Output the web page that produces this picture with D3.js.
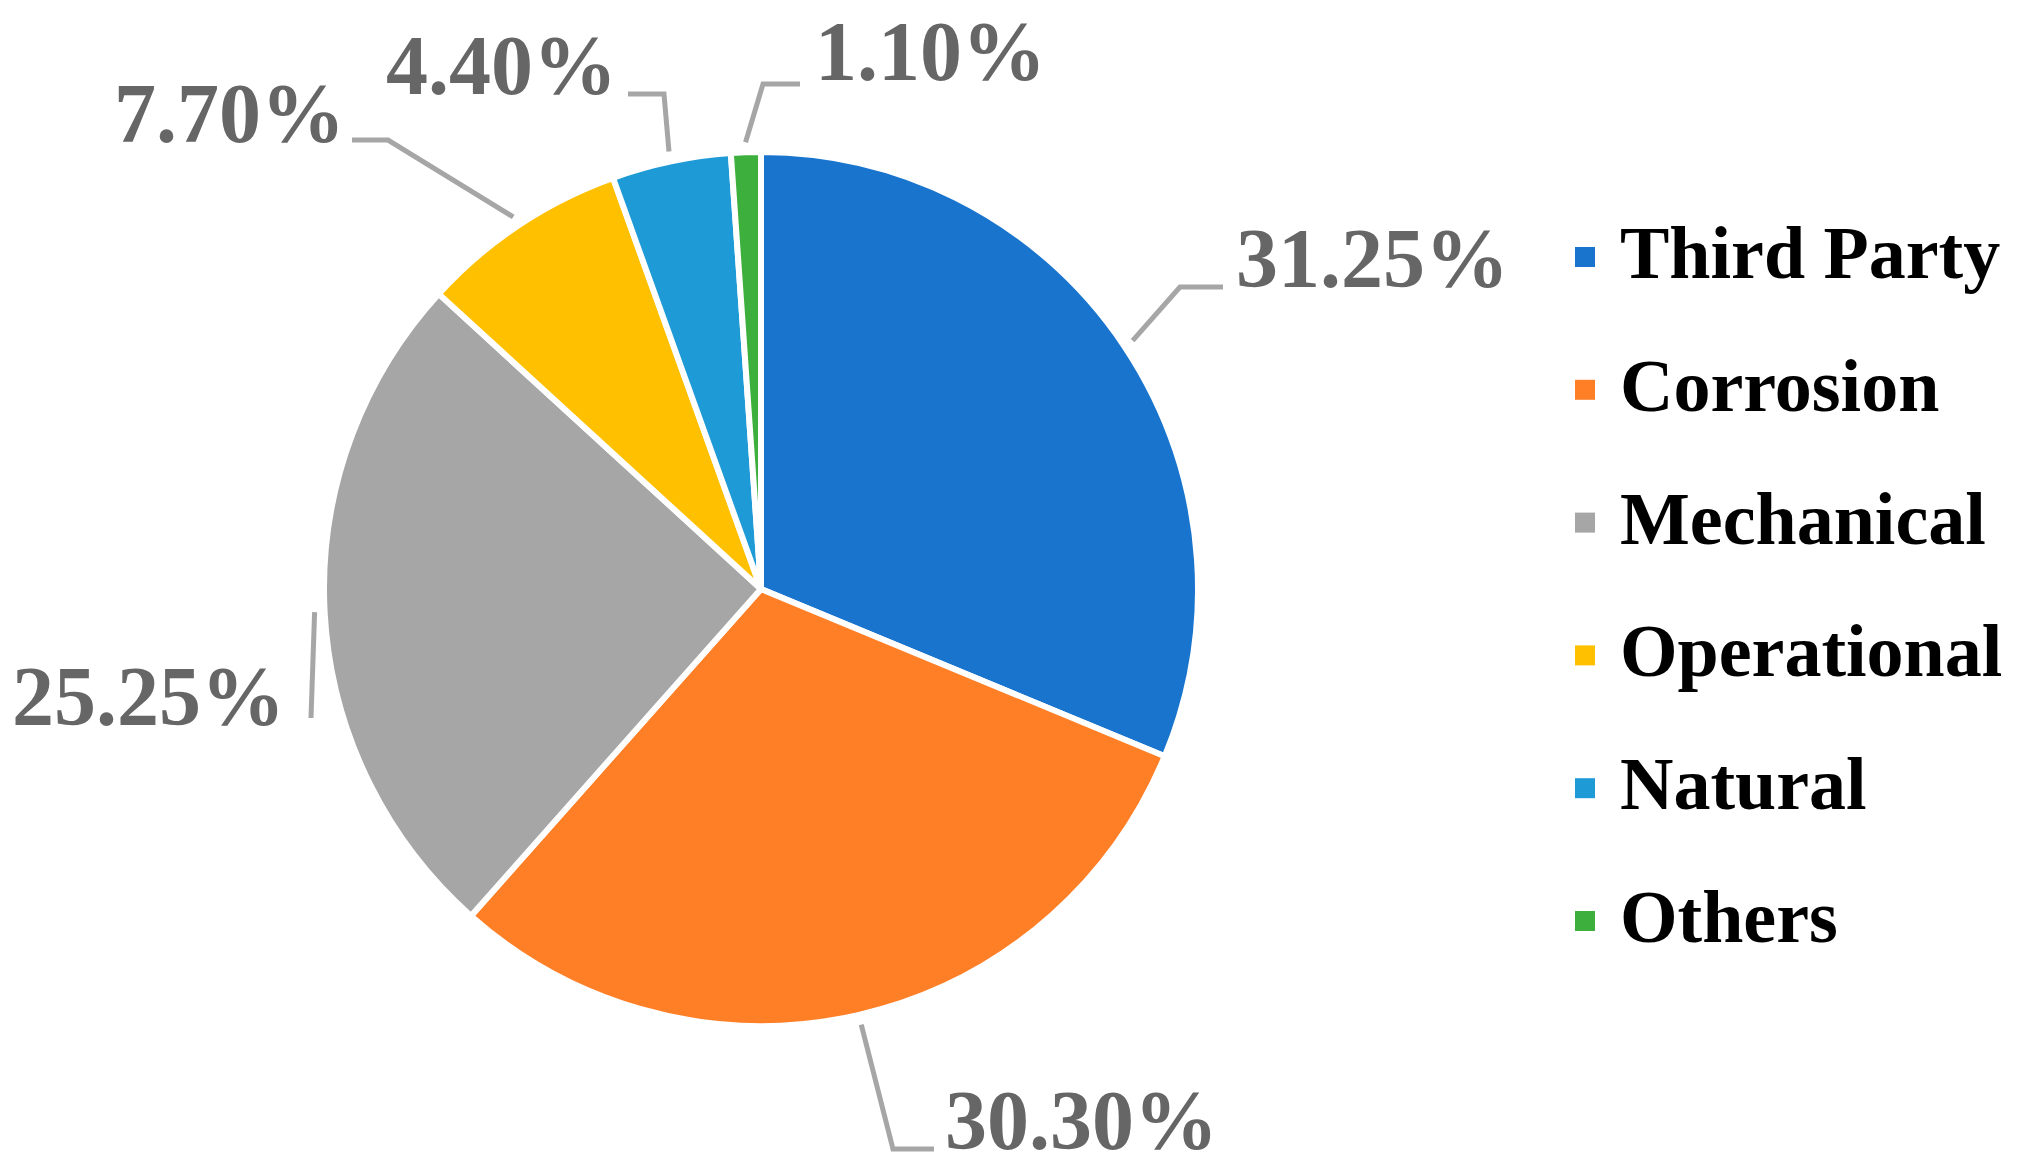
<!DOCTYPE html>
<html>
<head>
<meta charset="utf-8">
<script src="https://cdn.jsdelivr.net/npm/d3@7"></script>
<style>
  body { margin: 0; background: #fff; }
  text { font-family: "Liberation Serif", "Times New Roman", serif; font-weight: bold; }
</style>
</head>
<body>
<svg id="chart" width="2019" height="1168"></svg>
<script>
const categories = ["Third Party", "Corrosion", "Mechanical", "Operational", "Natural", "Others"];
const values = [31.25, 30.30, 25.25, 7.70, 4.40, 1.10];
const labels = ["31.25%", "30.30%", "25.25%", "7.70%", "4.40%", "1.10%"];
const colors = ["#1874CD", "#FF7F27", "#A6A6A6", "#FFC000", "#1E9BD7", "#3CAF3C"];

// label layout: elbow point, line end, text anchor point
const labelLayout = [
  { elbow: [1180, 287], end: [1223, 287], text: [1236, 287], anchor: "start" },
  { elbow: [893, 1149], end: [934, 1149], text: [945, 1149], anchor: "start" },
  { elbow: [311, 718], end: [311, 718], text: [285, 725], anchor: "end" },
  { elbow: [388, 140], end: [352, 140], text: [345, 142], anchor: "end" },
  { elbow: [664, 94], end: [628, 94], text: [386, 94], anchor: "start" },
  { elbow: [763, 84], end: [800, 84], text: [815, 80], anchor: "start" }
];

const cx = 761, cy = 589, R = 437;
const svg = d3.select("#chart");
const g = svg.append("g").attr("transform", `translate(${cx},${cy})`);

const pie = d3.pie().sort(null).value(d => d);
const arc = d3.arc().innerRadius(0).outerRadius(R);
const outer = d3.arc().innerRadius(R + 10).outerRadius(R + 10);
const arcs = pie(values);

g.selectAll("path.slice").data(arcs).join("path")
  .attr("class", "slice")
  .attr("d", arc)
  .attr("fill", (d, i) => colors[i])
  .attr("stroke", "#fff")
  .attr("stroke-width", 6)
  .attr("stroke-linejoin", "round");

arcs.forEach((d, i) => {
  const L = labelLayout[i];
  const [sx, sy] = outer.centroid(d);
  svg.append("polyline")
    .attr("points", [[sx + cx, sy + cy], L.elbow, L.end].map(p => p.join(",")).join(" "))
    .attr("fill", "none")
    .attr("stroke", "#A6A6A6")
    .attr("stroke-width", 5);
  svg.append("text")
    .attr("x", L.text[0]).attr("y", L.text[1])
    .attr("text-anchor", L.anchor)
    .attr("font-size", 84)
    .attr("fill", "#666666")
    .text(labels[i]);
});

const legendY = d3.scalePoint().domain(categories).range([278, 942]);
const legend = svg.append("g").selectAll("g").data(categories).join("g")
  .attr("transform", d => `translate(1575,${legendY(d)})`);
legend.append("rect")
  .attr("x", 0).attr("y", -31).attr("width", 20).attr("height", 20)
  .attr("fill", (d, i) => colors[i]);
legend.append("text")
  .attr("x", 45).attr("y", 0)
  .attr("font-size", 74)
  .attr("fill", "#000")
  .text(d => d);
</script>
</body>
</html>
